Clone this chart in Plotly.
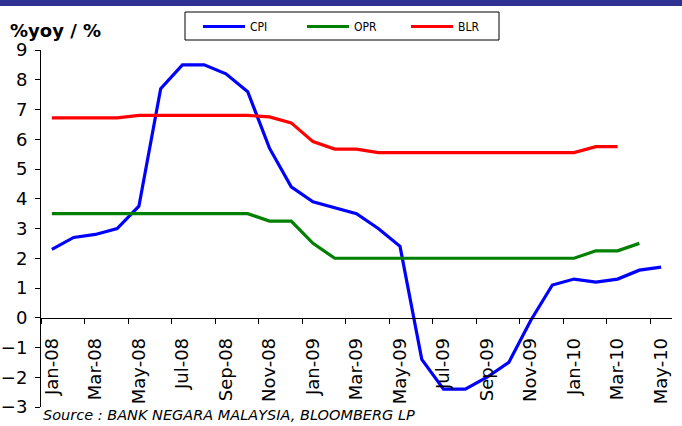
import plotly.graph_objects as go

months = ['Jan-08', 'Feb-08', 'Mar-08', 'Apr-08', 'May-08', 'Jun-08', 'Jul-08', 'Aug-08',
          'Sep-08', 'Oct-08', 'Nov-08', 'Dec-08', 'Jan-09', 'Feb-09', 'Mar-09', 'Apr-09',
          'May-09', 'Jun-09', 'Jul-09', 'Aug-09', 'Sep-09', 'Oct-09', 'Nov-09', 'Dec-09',
          'Jan-10', 'Feb-10', 'Mar-10', 'Apr-10', 'May-10']

cpi = [2.3, 2.7, 2.8, 3.0, 3.75, 7.7, 8.5, 8.5, 8.2, 7.6, 5.7, 4.4, 3.9, 3.7, 3.5, 3.0,
       2.4, -1.4, -2.4, -2.4, -2.0, -1.5, -0.1, 1.1, 1.3, 1.2, 1.3, 1.6, 1.7]

opr = [3.5, 3.5, 3.5, 3.5, 3.5, 3.5, 3.5, 3.5, 3.5, 3.5, 3.25, 3.25, 2.5, 2.0, 2.0, 2.0,
       2.0, 2.0, 2.0, 2.0, 2.0, 2.0, 2.0, 2.0, 2.0, 2.25, 2.25, 2.5, None]

blr = [6.72, 6.72, 6.72, 6.72, 6.80, 6.80, 6.80, 6.80, 6.80, 6.80, 6.75, 6.55, 5.92, 5.67,
       5.67, 5.55, 5.55, 5.55, 5.55, 5.55, 5.55, 5.55, 5.55, 5.55, 5.55, 5.75, 5.75, None, None]

tick_labels = months[::2]
series_names = ['CPI', 'OPR', 'BLR']
series_colors = ['#0000FF', '#008000', '#FF0000']

x_idx = list(range(len(months)))

fig = go.Figure()
for name, vals, col in zip(series_names, [cpi, opr, blr], series_colors):
    fig.add_trace(go.Scatter(x=x_idx, y=vals, mode='lines', name=name,
                             line=dict(color=col, width=3.2), connectgaps=False))

W, H = 682, 426
ml, mr, mt, mb = 41, 10, 50, 19
pw, ph = W - ml - mr, H - mt - mb

def px_x(p):
    return (p - ml) / pw

def px_y(p):
    return 1 - (p - mt) / ph

fig.update_layout(
    width=W, height=H,
    margin=dict(l=ml, r=mr, t=mt, b=mb, pad=0, autoexpand=False),
    paper_bgcolor='white', plot_bgcolor='white',
    font=dict(family='DejaVu Sans', color='black'),
    showlegend=True,
    legend=dict(orientation='h', x=px_x(198), y=px_y(12), xanchor='left', yanchor='top',
                borderwidth=0, bgcolor='rgba(0,0,0,0)',
                font=dict(family='Liberation Sans Narrow, DejaVu Sans Condensed', size=12,
                          color='black'),
                entrywidth=47, entrywidthmode='pixels', itemwidth=42,
                tracegroupgap=0),
    xaxis=dict(range=[-0.5, len(months) - 0.5], anchor='free', position=3 / 12,
               automargin=False,
               showline=True, linecolor='black', linewidth=1,
               tickmode='array', tickvals=x_idx[::2], ticktext=tick_labels,
               tickangle=-90, ticks='', showgrid=False, zeroline=False,
               ticklabelstandoff=12,
               tickfont=dict(family='DejaVu Sans', size=18, color='black'),
               minor=dict(tickmode='linear', tick0=-0.5, dtick=2, ticks='outside',
                          ticklen=5, tickcolor='black', showgrid=False)),
    yaxis=dict(range=[-3, 9], dtick=1, tick0=0, showline=True, linecolor='black',
               automargin=False,
               linewidth=1, ticks='outside', ticklen=5, tickcolor='black',
               showgrid=False, zeroline=False, ticklabelstandoff=4,
               tickfont=dict(family='DejaVu Sans', size=18, color='black')),
)

# legend frame
fig.add_shape(type='rect', xref='paper', yref='paper',
              x0=px_x(185), x1=px_x(499), y0=px_y(40), y1=px_y(12),
              fillcolor='white', line=dict(color='black', width=1), layer='below')

# top banner
fig.add_shape(type='rect', xref='paper', yref='paper',
              x0=px_x(0), x1=px_x(W), y0=px_y(6), y1=px_y(0),
              fillcolor='#2E3192', line=dict(width=0), layer='above')

fig.add_annotation(text='<b>%yoy / %</b>', xref='paper', yref='paper',
                   x=px_x(8), y=px_y(18), xanchor='left', yanchor='top', showarrow=False,
                   font=dict(family='DejaVu Sans', size=18, color='black'))

fig.add_annotation(text='<i>Source : BANK NEGARA MALAYSIA, BLOOMBERG LP</i>', xref='paper',
                   yref='paper', x=px_x(41), y=px_y(415), xanchor='left', yanchor='middle',
                   showarrow=False,
                   font=dict(family='DejaVu Sans', size=14.5, color='black'))

fig.write_html('out.html')
